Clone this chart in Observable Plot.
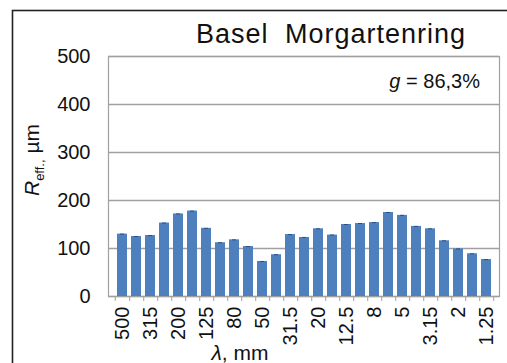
<!DOCTYPE html>
<html>
<head>
<meta charset="utf-8">
<script src="https://cdn.jsdelivr.net/npm/d3@7"></script>
<script src="https://cdn.jsdelivr.net/npm/@observablehq/plot@0.6"></script>
<style>
  html, body { margin: 0; padding: 0; background: #fff; overflow: hidden; }
  #chart svg { display: block; font-family: "Liberation Sans", Arial, sans-serif; }
</style>
</head>
<body>
<div id="chart"></div>
<script>
// Wavelength bands (mm) of the roughness spectrum, longest first
const wavelengths = ["500", "400", "315", "250", "200", "160", "125", "100", "80", "63",
  "50", "40", "31.5", "25", "20", "16", "12.5", "10", "8", "6.3",
  "5", "4", "3.15", "2.5", "2", "1.6", "1.25"];
// Effective roughness per band, µm
const reff = [130, 125, 127, 153, 172, 178, 142, 112, 118, 104,
  73, 87, 129, 123, 141, 128, 150, 152, 154, 175,
  169, 146, 141, 116, 99, 89, 77];
// Every other band gets a label
const labelled = wavelengths.filter((d, i) => i % 2 === 0);
const yTicks = [0, 100, 200, 300, 400, 500];

const title = "Basel Morgartenring";
const gValue = "86,3%";

const data = wavelengths.map((w, i) => ({w, r: reff[i]}));

const W = 507, H = 363;
const mL = 108, mR = 8, mT = 56, mB = 67;
const step = (W - mL - mR) / wavelengths.length;

const gray = "#a0a0a0";
const blue = "#4d80bd";

const chart = Plot.plot({
  width: W,
  height: H,
  marginLeft: mL,
  marginRight: mR,
  marginTop: mT,
  marginBottom: mB,
  style: {fontFamily: "Liberation Sans, Arial, sans-serif", fontSize: "20px", color: "#111", background: "#fff"},
  x: {domain: wavelengths, paddingInner: 0.3, paddingOuter: 0.15, label: null},
  y: {domain: [0, 500], label: null},
  marks: [
    Plot.ruleY(yTicks, {stroke: gray, strokeWidth: 1.5}),
    Plot.frame({stroke: gray, strokeWidth: 1.2}),
    Plot.barY(data, {x: "w", y: "r", fill: blue}),
    Plot.tickY(data, {x: "w", y: "r", stroke: "#2c4f80", strokeWidth: 1, insetLeft: 3, insetRight: 3}),
    Plot.axisY({ticks: yTicks, tickSize: 0, tickPadding: 18, fontSize: 20, label: null}),
    Plot.axisX({ticks: labelled, tickSize: 0, tickPadding: 10, tickRotate: -90, fontSize: 20, label: null}),
    // tick marks sit on the boundaries between bands
    Plot.axisX({ticks: wavelengths, tickSize: 5, dx: step / 2, text: null, stroke: gray, strokeOpacity: 1, label: null}),
    Plot.axisX({ticks: wavelengths.slice(0, 1), tickSize: 5, dx: -step / 2, text: null, stroke: gray, strokeOpacity: 1, label: null})
  ]
});

const svg = d3.select(chart);

// outer chart border
svg.insert("rect", ":first-child")
  .attr("x", 12.5).attr("y", 10.5)
  .attr("width", 600).attr("height", 400)
  .attr("fill", "none").attr("stroke", "#222").attr("stroke-width", 1.6);

// title
svg.append("text")
  .attr("x", 331).attr("y", 43)
  .attr("text-anchor", "middle")
  .attr("font-size", 27)
  .attr("letter-spacing", 1)
  .attr("word-spacing", 8)
  .attr("fill", "#111")
  .text(title);

// fraction annotation
const gt = svg.append("text")
  .attr("x", 480).attr("y", 88)
  .attr("text-anchor", "end")
  .attr("font-size", 20)
  .attr("fill", "#111");
gt.append("tspan").attr("font-style", "italic").text("g");
gt.append("tspan").text(" = " + gValue);

// y axis title with subscript
const yl = svg.append("text")
  .attr("transform", "translate(39,160) rotate(-90)")
  .attr("text-anchor", "middle")
  .attr("font-size", 21)
  .attr("fill", "#111");
yl.append("tspan").attr("font-style", "italic").text("R");
yl.append("tspan").attr("font-size", 13).attr("dy", 5).text("eff.,");
yl.append("tspan").attr("dy", -5).text(" µm");

// x axis title
const xl = svg.append("text")
  .attr("x", 240).attr("y", 360)
  .attr("text-anchor", "middle")
  .attr("font-size", 21)
  .attr("fill", "#111");
xl.append("tspan").attr("font-style", "italic").text("λ");
xl.append("tspan").text(", mm");

document.getElementById("chart").appendChild(chart);
</script>
</body>
</html>
